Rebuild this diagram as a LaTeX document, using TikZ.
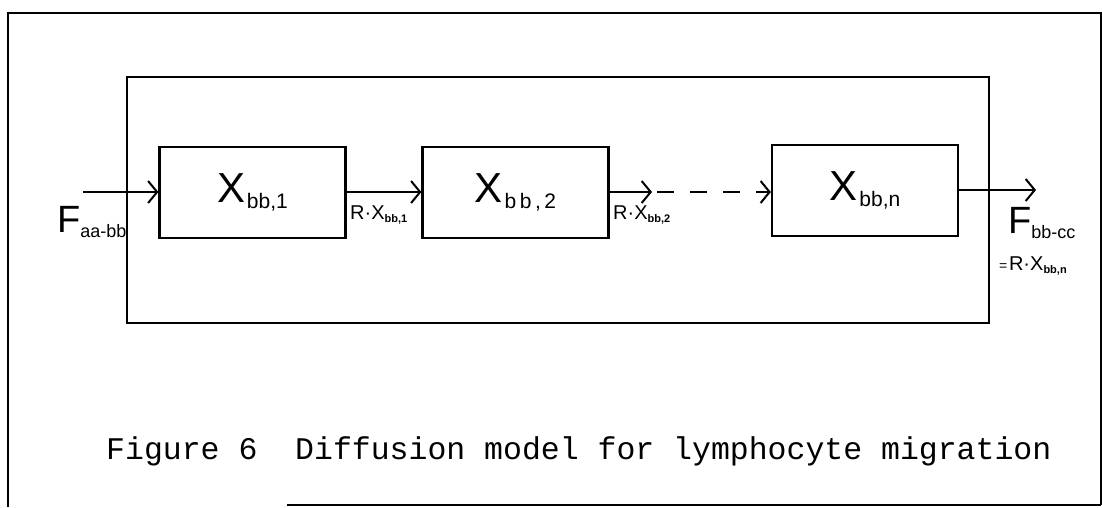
\documentclass[tikz,border=0pt]{standalone}
\usepackage{fontspec}
\setmainfont{Liberation Sans}
\newfontfamily\capfont{Liberation Mono}
\usetikzlibrary{arrows.meta}

% handwritten labels: big letter with lowered subscript
\newcommand{\bigsub}[2]{{\fontsize{42}{42}\selectfont #1}\,\raisebox{-6pt}{\fontsize{21}{21}\selectfont #2}}
\newcommand{\flowsub}[2]{{\fontsize{38}{38}\selectfont #1}\raisebox{-5pt}{\fontsize{18}{18}\selectfont #2}}
\newcommand{\rate}[1]{{\fontsize{20}{20}\selectfont R·X}\raisebox{-3pt}{\fontsize{11}{11}\selectfont\bfseries #1}}

\begin{document}
\begin{tikzpicture}[
    x=1pt, y=-1pt,
    comp/.style={draw, line width=2.2pt, minimum width=186pt, minimum height=91pt, inner sep=0pt},
    arrow/.style={-{Straight Barb[length=9pt,width=22pt,line width=2pt]}, line width=2pt},
    lbl/.style={anchor=base west, inner sep=0pt}
]
\useasboundingbox (0,0) rectangle (1102,507);

% page frame
\draw[line width=2pt] (1101,505) -- (1101,13) -- (8,13) -- (8,507);
\draw[line width=2pt] (287,505) -- (1101,505);

% compartment bb
\node[draw, line width=2.2pt, minimum width=862pt, minimum height=246pt, inner sep=0pt] (organ) at (558,200) {};

\node[comp] (box1) at (252.5,192.5) {\bigsub{X}{bb,1}};
\node[comp] (box2) at (515.5,192.5) {\bigsub{X}{b\,b\,,\,2}};
\node[comp] (boxn) at (865,190.5) {\bigsub{X}{bb,n}};

\coordinate (in) at (83,192);
\coordinate (gap) at (652,192);
\coordinate (out) at (1036,190);

\draw[arrow] (in) -- (box1.west |- in);
\draw[arrow] (box1.east |- in) -- (box2.west |- in);
\draw[arrow] (box2.east |- gap) -- (gap);
\draw[arrow, dash pattern=on 17pt off 16pt] ([xshift=5pt]gap) -- (boxn.west |- gap);
\draw[arrow] (boxn.east |- out) -- (out);

\node[lbl] (fin) at (57,232) {\flowsub{F}{aa-bb}};
\node[lbl] (r1) at (350,219) {\rate{bb,1}};
\node[lbl] (r2) at (613,219) {\rate{bb,2}};
\node[lbl] (fout) at (1008,233) {\flowsub{F}{bb-cc}};
\node[lbl] (rn) at (999,270) {{\fontsize{14}{14}\selectfont =}\,\rate{bb,n}};

\node[lbl] (caption) at (106,459) {\capfont\fontsize{31.5}{31.5}\selectfont Figure 6\ \ Diffusion model for lymphocyte migration};
\end{tikzpicture}
\end{document}
